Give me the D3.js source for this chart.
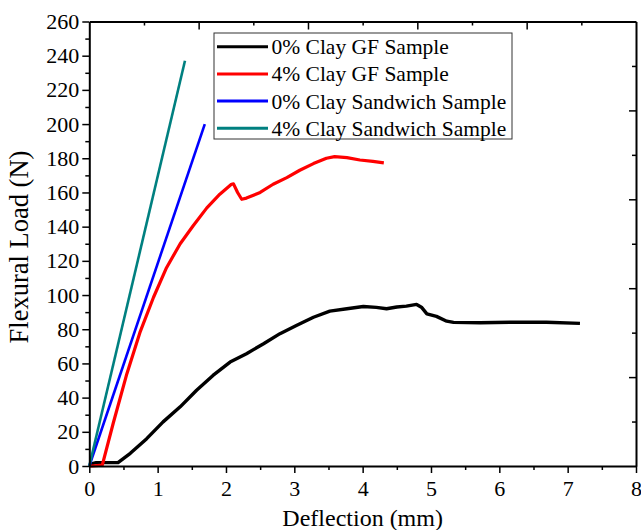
<!DOCTYPE html>
<html>
<head>
<meta charset="utf-8">
<script src="https://cdnjs.cloudflare.com/ajax/libs/d3/7.8.5/d3.min.js"></script>
<style>
  body { margin: 0; background: #fff; }
  svg text { font-family: "Liberation Serif", "Times New Roman", serif; fill: #000; }
  .axis path, .axis line { stroke: #000; }
  .axis path { stroke-width: 2px; }
  .axis line { stroke-width: 1.5px; }
  .axis text { font-size: 22px; }
</style>
</head>
<body>
<script>
// deflection (mm) / load (N)
var gf0X = [0, 0.1, 0.42, 0.6, 0.84, 1.08, 1.33, 1.57, 1.81, 2.06, 2.3, 2.55, 2.79, 3.03, 3.28, 3.52, 3.77, 4.01, 4.2, 4.35, 4.5, 4.64, 4.79, 4.86, 4.94, 5.08, 5.23, 5.33, 5.72, 6.2, 6.69, 7.18];
var gf0Y = [1, 2, 2, 7.4, 16, 25.8, 34.6, 44.3, 53, 60.8, 65.7, 71.5, 77.4, 82.2, 87, 90.6, 92, 93.3, 92.8, 92, 93, 93.5, 94.5, 92.9, 89, 87.5, 84.7, 84, 83.8, 84.1, 84.1, 83.4];

var gf4X = [0, 0.04, 0.19, 0.35, 0.55, 0.74, 0.94, 1.13, 1.33, 1.52, 1.72, 1.91, 2.08, 2.11, 2.17, 2.23, 2.3, 2.5, 2.69, 2.89, 3.08, 3.28, 3.47, 3.59, 3.77, 3.96, 4.15, 4.31];
var gf4Y = [0, 0, 0.5, 25, 54, 78, 98.7, 116, 130, 140.5, 151, 159, 164.8, 165, 160, 156, 156.7, 160, 164.8, 168.7, 173, 176.9, 180, 181, 180.4, 179, 178.2, 177.3];

var sw0X = [0, 1.69];
var sw0Y = [0, 200];
var sw4X = [0, 1.4];
var sw4Y = [0, 237];

var seriesNames = ["0% Clay GF Sample", "4% Clay GF Sample", "0% Clay Sandwich Sample", "4% Clay Sandwich Sample"];
var seriesColors = ["#000000", "#ff0000", "#0000ff", "#008080"];

var xMajor = d3.range(0, 9, 1);
var xMinor = d3.range(0.5, 8, 1);
var yMajor = d3.range(0, 261, 20);
var yMinor = d3.range(10, 260, 20);

var w = 641, h = 530;
var pLeft = 89.3, pRight = 636, pTop = 21.5, pBottom = 466;

var svg = d3.select("body").append("svg")
  .attr("width", w)
  .attr("height", h);

var x = d3.scaleLinear().domain([0, 8]).range([pLeft, pRight]);
var y = d3.scaleLinear().domain([0, 260]).range([pBottom, pTop]);

// lines
var series = [[gf0X, gf0Y], [gf4X, gf4Y], [sw0X, sw0Y], [sw4X, sw4Y]];
var widths = [3.4, 3.2, 2.6, 2.6];
var line = d3.line().x(function(d) { return x(d[0]); }).y(function(d) { return y(d[1]); });

[0, 1, 2, 3].forEach(function(i) {
  var pts = d3.zip(series[i][0], series[i][1]);
  svg.append("path")
    .datum(pts)
    .attr("fill", "none")
    .attr("stroke", seriesColors[i])
    .attr("stroke-width", widths[i])
    .attr("stroke-linejoin", "round")
    .attr("d", line);
});

// bottom axis
svg.append("g")
  .attr("class", "axis")
  .attr("transform", "translate(0," + pBottom + ")")
  .call(d3.axisBottom(x).tickValues(xMajor).tickFormat(d3.format("d")).tickSizeInner(7).tickSizeOuter(0).tickPadding(7));
svg.append("g")
  .attr("class", "axis")
  .attr("transform", "translate(0," + pBottom + ")")
  .call(d3.axisBottom(x).tickValues(xMinor).tickFormat("").tickSizeInner(4).tickSizeOuter(0))
  .select("path").remove();

// left axis
svg.append("g")
  .attr("class", "axis")
  .attr("transform", "translate(" + pLeft + ",0)")
  .call(d3.axisLeft(y).tickValues(yMajor).tickSizeInner(7).tickSizeOuter(0).tickPadding(3));
svg.append("g")
  .attr("class", "axis")
  .attr("transform", "translate(" + pLeft + ",0)")
  .call(d3.axisLeft(y).tickValues(yMinor).tickFormat("").tickSizeInner(4).tickSizeOuter(0))
  .select("path").remove();

// top and right frame, ticks point inward, 10 steps each
var frac = d3.scaleLinear().domain([0, 10]);
var steps = d3.range(1, 10);
var topAx = svg.append("g")
  .attr("class", "axis")
  .attr("transform", "translate(0," + pTop + ")")
  .call(d3.axisTop(frac.copy().range([pLeft, pRight])).tickValues(steps).tickFormat("").tickSizeOuter(0).tickSizeInner(-7));
topAx.selectAll(".tick line").attr("y2", function(d) { return d % 2 === 0 ? 8 : 4; });

var rightAx = svg.append("g")
  .attr("class", "axis")
  .attr("transform", "translate(" + pRight + ",0)")
  .call(d3.axisRight(frac.copy().range([pBottom, pTop])).tickValues(steps).tickFormat("").tickSizeOuter(0).tickSizeInner(-7));
rightAx.selectAll(".tick line").attr("x2", function(d) { return d % 2 === 0 ? -7 : -4; });

// axis titles
svg.append("text")
  .attr("x", (pLeft + pRight) / 2)
  .attr("y", 526)
  .attr("text-anchor", "middle")
  .style("font-size", "24px")
  .text("Deflection (mm)");

svg.append("text")
  .attr("transform", "translate(28," + 247 + ") rotate(-90)")
  .attr("text-anchor", "middle")
  .style("font-size", "26.5px")
  .text("Flexural Load (N)");

// legend
var lg = svg.append("g").attr("transform", "translate(214,33)");
lg.append("rect")
  .attr("width", 298)
  .attr("height", 106)
  .attr("fill", "#fff")
  .attr("stroke", "#333")
  .attr("stroke-width", 1);
seriesNames.forEach(function(name, i) {
  var cy = 13.7 + i * 27.2;
  lg.append("line")
    .attr("x1", 3).attr("x2", 54)
    .attr("y1", cy).attr("y2", cy)
    .attr("stroke", seriesColors[i])
    .attr("stroke-width", 3);
  lg.append("text")
    .attr("x", 57.5)
    .attr("y", cy)
    .attr("dy", "0.35em")
    .style("font-size", "21.5px")
    .text(name);
});
</script>
</body>
</html>
